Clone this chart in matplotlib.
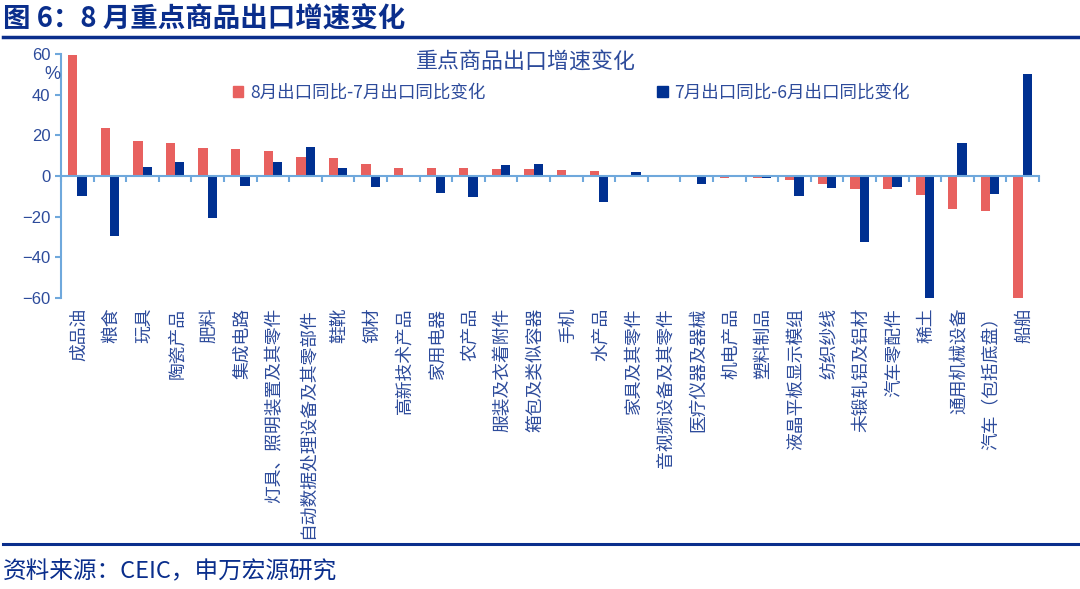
import numpy as np
import matplotlib
matplotlib.use("Agg")
import matplotlib.pyplot as plt
from matplotlib.patches import Patch
from matplotlib.lines import Line2D

plt.rcParams['font.family'] = ['Liberation Sans', 'Noto Sans CJK SC', 'DejaVu Sans']

## data
cats = ["成品油", "粮食", "玩具", "陶瓷产品", "肥料", "集成电路",
        "灯具、照明装置及其零件", "自动数据处理设备及其零部件", "鞋靴", "钢材",
        "高新技术产品", "家用电器", "农产品", "服装及衣着附件", "箱包及类似容器",
        "手机", "水产品", "家具及其零件", "音视频设备及其零件", "医疗仪器及器械",
        "机电产品", "塑料制品", "液晶平板显示模组", "纺织纱线", "未锻轧铝及铝材",
        "汽车零配件", "稀土", "通用机械设备", "汽车（包括底盘）", "船舶"]
aug_jul = [59.6, 23.8, 17.0, 16.0, 14.0, 13.4, 12.5, 9.5, 8.9, 5.7,
           4.1, 4.1, 4.1, 3.6, 3.6, 3.0, 2.4, 0.2, 0.2, 0.0,
           -0.9, -0.8, -2.1, -3.7, -6.5, -6.5, -9.5, -16.3, -17.3, -61.0]
jul_jun = [-9.9, -29.7, 4.6, 7.0, -20.8, -5.1, 6.7, 14.4, 4.1, -5.2,
           0.0, -8.4, -10.3, 5.3, 5.7, 0.0, -13.0, 1.9, 0.0, -3.7,
           0.0, -0.8, -10.0, -5.8, -32.5, -5.4, -61.0, 16.1, -8.9, 50.2]
leg_labels = ["8月出口同比-7月出口同比变化", "7月出口同比-6月出口同比变化"]

## style
RED = '#E8615F'
BLUE = '#003091'
AXC = '#6FA8DC'
TXT = '#2D4B9B'
DARK = '#0A2E8C'
CJK = ['Noto Sans CJK SC', 'DejaVu Sans']

fig = plt.figure(figsize=(10.8, 5.89), dpi=100)
ax = fig.add_axes([0.0565, 0.494, 0.9055, 0.4143])

x = np.arange(len(cats))
w = 0.285
ax.bar(x - w/2, aug_jul, width=w, color=RED, zorder=2)
ax.bar(x + w/2, jul_jun, width=w, color=BLUE, zorder=2)

ax.set_xlim(-0.5, len(cats) - 0.5)
ax.set_ylim(-60, 60)
ax.set_yticks(np.arange(-60, 61, 20))
ax.tick_params(axis='y', colors=AXC, labelcolor=TXT, labelsize=12, length=4, width=1.5, direction='out')

ax.set_xticks([])
ax.set_xticks(np.arange(-0.5, len(cats), 1), minor=True)
ax.tick_params(axis='x', which='minor', colors=AXC, length=4, width=1.5, direction='out')
ax.spines['bottom'].set_position(('data', 0))
for s in ['bottom', 'left']:
    ax.spines[s].set_color(AXC)
    ax.spines[s].set_linewidth(1.5)
for s in ['top', 'right']:
    ax.spines[s].set_visible(False)

# category labels at the bottom
for i, c in enumerate(cats):
    ax.text(i + 0.05, -0.04, c, transform=ax.get_xaxis_transform(), rotation=90,
            ha='center', va='top', fontsize=12.8, color=TXT, family=CJK)

ax.text(-0.009, 0.915, "%", transform=ax.transAxes, ha='center', va='center', fontsize=13, color=TXT)

# chart title and legend
fig.text(0.487, 0.895, "重点商品出口增速变化", ha='center', va='center', fontsize=15.8,
         color=TXT, family=CJK)
handles = [Patch(color=RED), Patch(color=BLUE)]
leg = fig.legend(handles, leg_labels, ncol=2, loc='center', bbox_to_anchor=(0.529, 0.843),
                 frameon=False, handlelength=0.6, handleheight=0.6, handletextpad=0.4,
                 columnspacing=9.8, prop={'family': CJK, 'size': 12.6})
for t in leg.get_texts():
    t.set_color(TXT)

# report frame: heading, rules, source
fig.text(0.003, 0.967, "图 6：8 月重点商品出口增速变化", ha='left', va='center', fontsize=19.8,
         weight='bold', color=DARK, family=CJK)
fig.add_artist(Line2D([0.003, 1.0], [1 - 37/589, 1 - 37/589], color=DARK, lw=2.5))
fig.add_artist(Line2D([0.003, 0.998], [1 - 544/589, 1 - 544/589], color=DARK, lw=2.2))
fig.text(0.003, 1 - 572/589, "资料来源：CEIC，申万宏源研究", ha='left', va='center', fontsize=17,
         color=DARK, family=CJK)

fig.savefig("out.png", dpi=100)
